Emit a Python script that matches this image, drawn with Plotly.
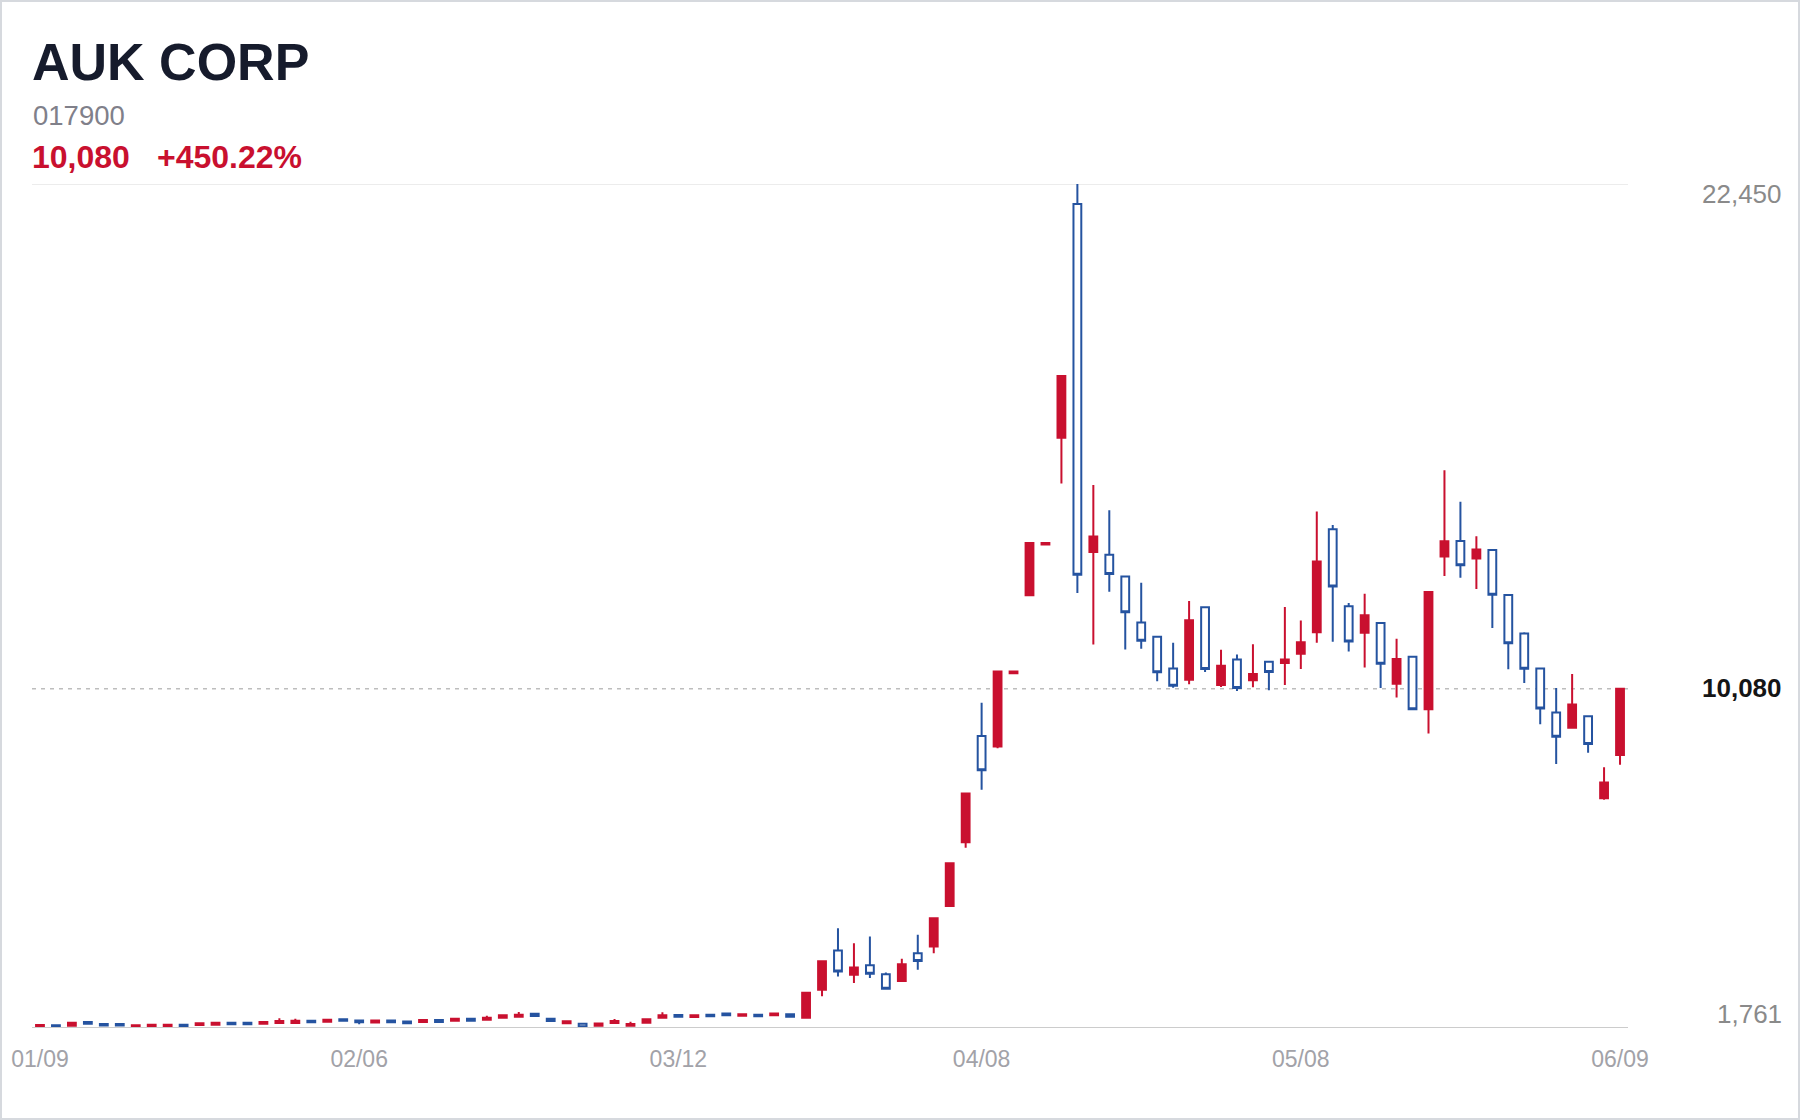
import plotly.graph_objects as go

# ---------------- data ----------------
dates = [
    "01/09", "01/10", "01/11", "01/12", "01/15", "01/16", "01/17", "01/18", "01/19", "01/22",
    "01/23", "01/24", "01/25", "01/26", "01/29", "01/30", "01/31", "02/01", "02/02", "02/05",
    "02/06", "02/13", "02/14", "02/15", "02/16", "02/19", "02/20", "02/21", "02/22", "02/23",
    "02/26", "02/27", "02/28", "02/29", "03/04", "03/05", "03/06", "03/07", "03/08", "03/11",
    "03/12", "03/13", "03/14", "03/15", "03/18", "03/19", "03/20", "03/21", "03/22", "03/25",
    "03/26", "03/27", "03/28", "03/29", "04/01", "04/02", "04/03", "04/04", "04/05", "04/08",
    "04/09", "04/10", "04/11", "04/12", "04/15", "04/16", "04/17", "04/18", "04/19", "04/22",
    "04/23", "04/24", "04/25", "04/26", "04/29", "04/30", "05/02", "05/03", "05/07", "05/08",
    "05/09", "05/10", "05/13", "05/14", "05/16", "05/17", "05/20", "05/21", "05/22", "05/23",
    "05/24", "05/27", "05/28", "05/29", "05/30", "05/31", "06/03", "06/04", "06/05", "06/09",
]

open_ = [
    1795, 1826, 1818, 1908, 1860, 1860, 1785, 1802, 1802, 1843,
    1835, 1838, 1892, 1892, 1867, 1884, 1884, 1941, 1916, 1977,
    1945, 1896, 1945, 1920, 1908, 1957, 1941, 1990, 1965, 2014,
    2039, 2112, 1990, 1876, 1867, 1814, 1884, 1818, 1888, 2010,
    2080, 2030, 2088, 2116, 2059, 2088, 2075, 2100, 2010, 2700,
    3663, 3066, 3297, 3080, 2916, 3596, 3759, 4751, 6313, 8920,
    8662, 10460, 12370, 13610, 16228, 21961, 13430, 13359, 12830, 11699,
    11349, 10576, 10300, 12074, 10169, 10796, 10283, 10739, 10707, 10934,
    11463, 13986, 12098, 11447, 11691, 10202, 10861, 9576, 13319, 13701,
    13270, 13481, 12375, 11431, 10576, 9494, 9120, 9405, 7395, 8453,
]
high = [
    1832, 1826, 1892, 1908, 1860, 1860, 1826, 1843, 1843, 1843,
    1875, 1888, 1892, 1892, 1908, 2000, 1990, 1941, 1965, 1977,
    1945, 1945, 1945, 1920, 1957, 1957, 1990, 1990, 2063, 2071,
    2153, 2112, 1990, 1925, 1867, 1871, 1982, 1916, 1977, 2145,
    2080, 2071, 2088, 2116, 2100, 2088, 2116, 2100, 2625, 3400,
    4207, 3840, 4002, 3120, 3460, 4044, 4452, 5797, 7508, 9735,
    10500, 10500, 13650, 13650, 17745, 22450, 15074, 14450, 12830, 12676,
    11349, 11203, 12228, 12074, 11032, 10918, 11170, 10739, 12082, 11748,
    14425, 14092, 12179, 12407, 11691, 11300, 10877, 12448, 15434, 14661,
    13815, 13481, 12375, 11463, 10576, 10096, 10438, 9405, 8152, 10080,
]
low = [
    1795, 1794, 1818, 1850, 1820, 1820, 1785, 1802, 1802, 1802,
    1835, 1838, 1851, 1851, 1867, 1884, 1884, 1900, 1916, 1937,
    1851, 1896, 1904, 1880, 1908, 1908, 1941, 1941, 1965, 2014,
    2039, 2030, 1933, 1876, 1761, 1814, 1884, 1818, 1888, 2010,
    2039, 2030, 2047, 2075, 2059, 2047, 2075, 2035, 2010, 2540,
    3025, 2862, 2984, 2726, 2889, 3188, 3596, 4751, 6177, 7603,
    8621, 10460, 12370, 13610, 15106, 12425, 11162, 12456, 11040, 11056,
    10259, 10104, 10186, 10487, 10121, 10023, 10113, 10039, 10169, 10560,
    11203, 11227, 10991, 10601, 10096, 9860, 9576, 8981, 12839, 12798,
    12521, 11569, 10552, 10218, 9209, 8233, 9120, 8510, 7354, 8217,
]
close = [
    1832, 1794, 1892, 1868, 1820, 1820, 1826, 1843, 1843, 1802,
    1875, 1888, 1851, 1851, 1908, 1933, 1941, 1900, 1965, 1937,
    1904, 1945, 1904, 1880, 1957, 1908, 1990, 1941, 2014, 2071,
    2088, 2055, 1933, 1925, 1782, 1871, 1933, 1859, 1977, 2075,
    2039, 2071, 2047, 2075, 2100, 2047, 2116, 2035, 2625, 3400,
    3147, 3243, 3093, 2726, 3324, 3406, 4452, 5797, 7508, 8078,
    10500, 10500, 13650, 13650, 17745, 12873, 13811, 12887, 11952, 11252,
    10479, 10153, 11756, 10560, 10641, 10096, 10438, 10487, 10796, 11219,
    13197, 12586, 11235, 11878, 10690, 10804, 9576, 12448, 13693, 13107,
    13489, 12383, 11195, 10568, 9592, 8900, 9690, 8721, 7777, 10080,
]

tick_dates = ["01/09", "02/06", "03/12", "04/08", "05/08", "06/09"]

name = "AUK CORP"
code = "017900"
last_price_text = "10,080"
change_text = "+450.22%"
y_min, y_max, last_close = 1761, 22450, 10080

# ---------------- style ----------------
RED = "#c9102f"
BLUE = "#2553a0"
W, H = 1800, 1120
ML, MR, MT, MB = 32, 172, 184, 92
PW, PH = W - ML - MR, H - MT - MB
FONT = "Liberation Sans, Arial, sans-serif"


def py(ypx):
    return 1 - (ypx - MT) / PH


def px(xpx):
    return (xpx - ML) / PW


fig = go.Figure()
fig.add_trace(go.Candlestick(
    x=dates, open=open_, high=high, low=low, close=close,
    increasing=dict(line=dict(color=RED, width=2), fillcolor=RED),
    decreasing=dict(line=dict(color=BLUE, width=2), fillcolor="#ffffff"),
    whiskerwidth=0, hoverinfo="skip", showlegend=False,
))

shapes = [
    # top rule
    dict(type="line", xref="paper", yref="y", x0=0, x1=1, y0=y_max, y1=y_max,
         line=dict(color="#e6e6e6", width=1.5), layer="below"),
    # last close dashed
    dict(type="line", xref="paper", yref="y", x0=0, x1=1, y0=last_close, y1=last_close,
         line=dict(color="#bdbdbd", width=1.5, dash="4px,5px"), layer="below"),
    # bottom axis line
    dict(type="line", xref="paper", yref="y", x0=0, x1=1, y0=y_min, y1=y_min,
         line=dict(color="#cccccc", width=2), layer="above"),
    # outer frame
    dict(type="rect", xref="paper", yref="paper",
         x0=px(1), x1=px(W - 1), y0=py(H - 1), y1=py(1),
         line=dict(color="#d6d9de", width=2), fillcolor="rgba(0,0,0,0)"),
]

annotations = [
    dict(text=f"<b>{name}</b>", xref="paper", yref="paper", x=px(30), y=py(62),
         xanchor="left", yanchor="middle", showarrow=False,
         font=dict(family=FONT, size=52, color="#161b2c")),
    dict(text=code, xref="paper", yref="paper", x=px(31), y=py(116),
         xanchor="left", yanchor="middle", showarrow=False,
         font=dict(family=FONT, size=27.5, color="#80808a")),
    dict(text=f"<b>{last_price_text}</b>", xref="paper", yref="paper", x=px(30), y=py(157),
         xanchor="left", yanchor="middle", showarrow=False,
         font=dict(family=FONT, size=32, color=RED)),
    dict(text=f"<b>{change_text}</b>", xref="paper", yref="paper", x=px(155), y=py(157),
         xanchor="left", yanchor="middle", showarrow=False,
         font=dict(family=FONT, size=32, color=RED)),
    # right-side price labels
    dict(text=f"{y_max:,}", xref="paper", yref="y", x=px(1784), y=y_max, yshift=-10,
         xanchor="right", yanchor="middle", showarrow=False,
         font=dict(family=FONT, size=26, color="#8a8a8a")),
    dict(text=f"<b>{last_close:,}</b>", xref="paper", yref="y", x=px(1784), y=last_close,
         yshift=1, xanchor="right", yanchor="middle", showarrow=False,
         font=dict(family=FONT, size=26, color="#151515")),
    dict(text=f"{y_min:,}", xref="paper", yref="y", x=px(1784), y=y_min, yshift=14,
         xanchor="right", yanchor="middle", showarrow=False,
         font=dict(family=FONT, size=26, color="#8a8a8a")),
]

fig.update_layout(
    width=W, height=H,
    margin=dict(l=ML, r=MR, t=MT, b=MB),
    paper_bgcolor="#ffffff", plot_bgcolor="#ffffff",
    shapes=shapes, annotations=annotations,
    font=dict(family=FONT),
    xaxis=dict(
        type="category", rangeslider=dict(visible=False),
        showgrid=False, zeroline=False, showline=False,
        tickmode="array", tickvals=tick_dates, ticktext=tick_dates,
        ticks="", ticklabelstandoff=15,
        tickfont=dict(family=FONT, size=23, color="#a2a2a8"),
        range=[-0.5, len(dates) - 0.5], fixedrange=True,
    ),
    yaxis=dict(
        range=[y_min, y_max], showgrid=False, zeroline=False, showline=False,
        showticklabels=False, fixedrange=True,
    ),
)

fig.write_html("out.html")
